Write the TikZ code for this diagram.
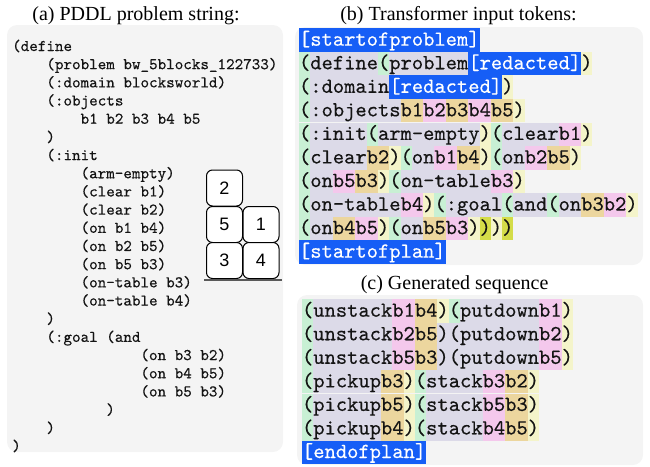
\documentclass[tikz,border=0pt]{standalone}
\usepackage{fontspec}
\setmainfont{Liberation Serif}
\newfontfamily\monofont{lmmono10-regular.otf}[FakeBold=0.4]
\newfontfamily\blockfont{Liberation Sans}
\usetikzlibrary{chains,positioning}
\definecolor{tkG}{RGB}{200,240,212}
\definecolor{tkL}{RGB}{220,218,232}
\definecolor{tkP}{RGB}{244,200,236}
\definecolor{tkT}{RGB}{236,214,158}
\definecolor{tkY}{RGB}{244,244,202}
\definecolor{tkO}{RGB}{212,220,72}
\definecolor{tkB}{RGB}{22,94,246}
\definecolor{panelgray}{RGB}{244,244,244}
\definecolor{inkc}{RGB}{20,20,20}
\tikzset{
  tk/.style={on chain, inner sep=0pt, outer sep=0pt, text height=17.4pt, text depth=6.1pt,
    font=\monofont\fontsize{21.5}{22}\selectfont, text=inkc},
  tkg/.style={tk, fill=tkG},
  tkl/.style={tk, fill=tkL},
  tkp/.style={tk, fill=tkP},
  tkt/.style={tk, fill=tkT},
  tky/.style={tk, fill=tkY},
  tko/.style={tk, fill=tkO},
  tkb/.style={tk, fill=tkB, text=white},
  codeline/.style={anchor=base west, inner sep=0pt, font=\monofont\fontsize{16.3}{18}\selectfont, text=inkc},
  paneltitle/.style={anchor=base, inner sep=0pt, font=\fontsize{20}{22}\selectfont},
  panelbox/.style={fill=panelgray, rounded corners=10pt},
  blockbox/.style={draw=black, fill=white, rounded corners=6pt, minimum size=36pt, line width=1pt,
    inner sep=0pt, font=\blockfont\fontsize{18}{20}\selectfont},
}
\begin{document}
\begin{tikzpicture}[x=1pt,y=-1pt,node distance=0pt]
\useasboundingbox (0,0) rectangle (650,466);
% panels
\fill[panelbox] (7,25) rectangle (283,452);
\fill[panelbox] (295,27) rectangle (643,265);
\fill[panelbox] (297,295) rectangle (643,465);
% titles
\node[paneltitle] (ta) at (136,20) {(a) PDDL problem string:};
\node[paneltitle] (tb) at (458.5,20) {(b) Transformer input tokens:};
\node[paneltitle] (tc) at (454.6,289.3) {(c) Generated sequence};
% (a) code
\foreach \ind/\txt [count=\i] in {
 0/{(define},
 4/{(problem bw\_5blocks\_122733)},
 4/{(:domain blocksworld)},
 4/{(:objects},
 8/{b1 b2 b3 b4 b5},
 4/{)},
 4/{(:init},
 8/{(arm-empty)},
 8/{(clear b1)},
 8/{(clear b2)},
 8/{(on b1 b4)},
 8/{(on b2 b5)},
 8/{(on b5 b3)},
 8/{(on-table b3)},
 8/{(on-table b4)},
 4/{)},
 4/{(:goal (and},
 15/{(on b3 b2)},
 15/{(on b4 b5)},
 15/{(on b5 b3)},
 11/{)},
 4/{)},
 0/{)}}
 \node[codeline] (l\i) at ({12+\ind*8.55},{51+(\i-1)*18.18}) {\txt};
% blocks
\node[blockbox] (k2) at (224.5,188) {2};
\node[blockbox] (k5) at (224.5,224.5) {5};
\node[blockbox] (k1) at (261,224.5) {1};
\node[blockbox] (k3) at (224.5,260.5) {3};
\node[blockbox] (k4) at (261,260.5) {4};
\coordinate (tl) at (204,280);
\coordinate (tr) at (282,280);
\draw[line width=1.5pt, draw=black!65] (tl) -- (tr);
% (b) tokens
\begin{scope}[start chain=rb1 going right]
\node[tkb, at={(299,40.05)}, anchor=west] {[startofproblem]};
\end{scope}
\begin{scope}[start chain=rb2 going right]
\node[tkg, at={(299,63.6)}, anchor=west] {(};
\node[tkl] {define}; \node[tkg] {(}; \node[tkl] {problem}; \node[tkb] {[redacted]}; \node[tky] {)};
\end{scope}
\begin{scope}[start chain=rb3 going right]
\node[tkg, at={(299,87.15)}, anchor=west] {(};
\node[tkl] {:domain}; \node[tkb] {[redacted]}; \node[tky] {)};
\end{scope}
\begin{scope}[start chain=rb4 going right]
\node[tkg, at={(299,110.7)}, anchor=west] {(};
\node[tkl] {:objects}; \node[tkt] {b1}; \node[tkp] {b2}; \node[tkt] {b3}; \node[tkp] {b4}; \node[tkt] {b5}; \node[tky] {)};
\end{scope}
\begin{scope}[start chain=rb5 going right]
\node[tkg, at={(299,134.25)}, anchor=west] {(};
\node[tkl] {:init}; \node[tkg] {(}; \node[tkl] {arm-empty}; \node[tky] {)}; \node[tkg] {(}; \node[tkl] {clear}; \node[tkp] {b1}; \node[tky] {)};
\end{scope}
\begin{scope}[start chain=rb6 going right]
\node[tkg, at={(299,157.8)}, anchor=west] {(};
\node[tkl] {clear}; \node[tkt] {b2}; \node[tky] {)};
\node[tkg] {(}; \node[tkl] {on}; \node[tkp] {b1}; \node[tkt] {b4}; \node[tky] {)};
\node[tkg] {(}; \node[tkl] {on}; \node[tkp] {b2}; \node[tkt] {b5}; \node[tky] {)};
\end{scope}
\begin{scope}[start chain=rb7 going right]
\node[tkg, at={(299,181.35)}, anchor=west] {(};
\node[tkl] {on}; \node[tkp] {b5}; \node[tkt] {b3}; \node[tky] {)};
\node[tkg] {(}; \node[tkl] {on-table}; \node[tkp] {b3}; \node[tky] {)};
\end{scope}
\begin{scope}[start chain=rb8 going right]
\node[tkg, at={(299,204.9)}, anchor=west] {(};
\node[tkl] {on-table}; \node[tkp] {b4}; \node[tky] {)};
\node[tkg] {(}; \node[tkl] {:goal}; \node[tkg] {(}; \node[tkl] {and};
\node[tkg] {(}; \node[tkl] {on}; \node[tkt] {b3}; \node[tkp] {b2}; \node[tky] {)};
\end{scope}
\begin{scope}[start chain=rb9 going right]
\node[tkg, at={(299,228.45)}, anchor=west] {(};
\node[tkl] {on}; \node[tkt] {b4}; \node[tkp] {b5}; \node[tky] {)};
\node[tkg] {(}; \node[tkl] {on}; \node[tkt] {b5}; \node[tkp] {b3}; \node[tky] {)};
\node[tko] {)}; \node[tky] {)}; \node[tko] {)};
\end{scope}
\begin{scope}[start chain=rb10 going right]
\node[tkb, at={(299,252)}, anchor=west] {[startofplan]};
\end{scope}
% (c) tokens
\begin{scope}[start chain=rc1 going right]
\node[tkg, at={(302,311.05)}, anchor=west] {(};
\node[tkl] {unstack}; \node[tkp] {b1}; \node[tkt] {b4}; \node[tky] {)};
\node[tkg] {(}; \node[tkl] {putdown}; \node[tkp] {b1}; \node[tky] {)};
\end{scope}
\begin{scope}[start chain=rc2 going right]
\node[tkg, at={(302,334.6)}, anchor=west] {(};
\node[tkl] {unstack}; \node[tkp] {b2}; \node[tkt] {b5}; \node[tkl] {)(};
\node[tkl] {putdown}; \node[tkp] {b2}; \node[tky] {)};
\end{scope}
\begin{scope}[start chain=rc3 going right]
\node[tkg, at={(302,358.15)}, anchor=west] {(};
\node[tkl] {unstack}; \node[tkp] {b5}; \node[tkt] {b3}; \node[tkl] {)(};
\node[tkl] {putdown}; \node[tkp] {b5}; \node[tky] {)};
\end{scope}
\begin{scope}[start chain=rc4 going right]
\node[tkg, at={(302,381.7)}, anchor=west] {(};
\node[tkl] {pickup}; \node[tkt] {b3}; \node[tky] {)};
\node[tkg] {(}; \node[tkl] {stack}; \node[tkp] {b3}; \node[tkt] {b2}; \node[tky] {)};
\end{scope}
\begin{scope}[start chain=rc5 going right]
\node[tkg, at={(302,405.25)}, anchor=west] {(};
\node[tkl] {pickup}; \node[tkt] {b5}; \node[tky] {)};
\node[tkg] {(}; \node[tkl] {stack}; \node[tkp] {b5}; \node[tkt] {b3}; \node[tky] {)};
\end{scope}
\begin{scope}[start chain=rc6 going right]
\node[tkg, at={(302,428.8)}, anchor=west] {(};
\node[tkl] {pickup}; \node[tkt] {b4}; \node[tky] {)};
\node[tkg] {(}; \node[tkl] {stack}; \node[tkp] {b4}; \node[tkt] {b5}; \node[tky] {)};
\end{scope}
\begin{scope}[start chain=rc7 going right]
\node[tkb, at={(302,452.35)}, anchor=west] {[endofplan]};
\end{scope}
\end{tikzpicture}
\end{document}
